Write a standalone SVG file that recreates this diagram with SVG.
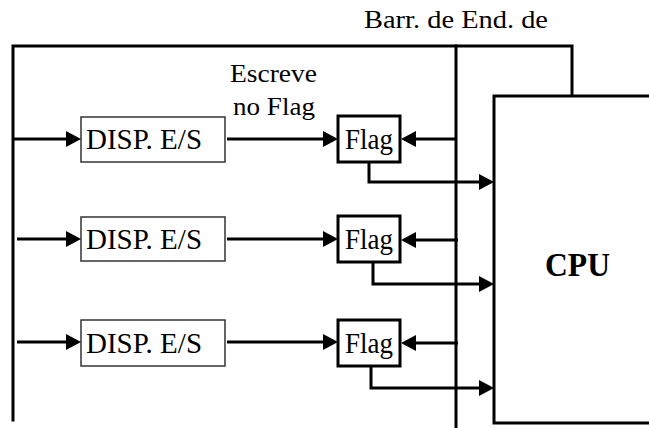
<svg xmlns="http://www.w3.org/2000/svg" width="649" height="428" viewBox="0 0 649 428">
  <style>
    .bus { fill: none; stroke: #000; stroke-width: 3; stroke-linejoin: miter; stroke-linecap: square; }
    .arrow { fill: none; stroke: #000; stroke-width: 3; marker-end: url(#head); }
    .dev { fill: #fff; stroke: #333; stroke-width: 1.5; }
    .flag { fill: #fff; stroke: #000; stroke-width: 3; }
    .cpu { fill: #fff; stroke: #000; stroke-width: 3; }
    text { font-family: "Liberation Serif", "Times New Roman", serif; fill: #000; }
    .lbl { font-size: 30px; }
    .flg { font-size: 29px; }
    .note { font-size: 26px; }
    .big { font-size: 34px; font-weight: bold; }
  </style>
  <defs>
    <marker id="head" markerUnits="userSpaceOnUse" markerWidth="16" markerHeight="16" refX="5" refY="8" orient="auto">
      <path d="M0,0 L15,8 L0,16 z" fill="#000"/>
    </marker>
  </defs>

  <rect width="649" height="428" fill="#fff"/>

  <!-- address bus frame -->
  <g id="bus">
    <path class="bus" d="M13,420 V46 H572 V96"/>
    <path class="bus" d="M456,46 V430"/>
    <text class="note" x="364" y="28" textLength="184" lengthAdjust="spacingAndGlyphs">Barr. de End. de</text>
  </g>

  <!-- processor -->
  <g id="cpu">
    <rect class="cpu" x="494" y="96" width="170" height="327"/>
    <text class="big" x="545" y="276" textLength="65" lengthAdjust="spacingAndGlyphs">CPU</text>
  </g>

  <!-- I/O devices -->
  <g id="dev1">
    <rect class="dev" x="81" y="117" width="144" height="45"/>
    <text class="lbl" x="86" y="149" textLength="116" lengthAdjust="spacingAndGlyphs">DISP. E/S</text>
  </g>
  <g id="dev2">
    <rect class="dev" x="81" y="217" width="144" height="44"/>
    <text class="lbl" x="86" y="249" textLength="116" lengthAdjust="spacingAndGlyphs">DISP. E/S</text>
  </g>
  <g id="dev3">
    <rect class="dev" x="81" y="320" width="144" height="46"/>
    <text class="lbl" x="86" y="353" textLength="116" lengthAdjust="spacingAndGlyphs">DISP. E/S</text>
  </g>

  <!-- status flags -->
  <g id="flag1">
    <rect class="flag" x="338" y="116" width="62" height="46"/>
    <text class="flg" x="345" y="149" textLength="48" lengthAdjust="spacingAndGlyphs">Flag</text>
  </g>
  <g id="flag2">
    <rect class="flag" x="338" y="216" width="62" height="46"/>
    <text class="flg" x="345" y="249" textLength="48" lengthAdjust="spacingAndGlyphs">Flag</text>
  </g>
  <g id="flag3">
    <rect class="flag" x="338" y="320" width="62" height="46"/>
    <text class="flg" x="345" y="353" textLength="48" lengthAdjust="spacingAndGlyphs">Flag</text>
  </g>

  <!-- write-flag caption -->
  <g id="caption">
    <text class="note" x="230" y="82" textLength="87" lengthAdjust="spacingAndGlyphs">Escreve</text>
    <text class="note" x="233" y="115" textLength="82" lengthAdjust="spacingAndGlyphs">no Flag</text>
  </g>

  <!-- connectors -->
  <g id="connectors">
    <line class="arrow" x1="13" y1="139" x2="71" y2="139"/>
    <line class="arrow" x1="17" y1="239" x2="71" y2="239"/>
    <line class="arrow" x1="17" y1="342" x2="71" y2="342"/>

    <line class="arrow" x1="227" y1="139" x2="328" y2="139"/>
    <line class="arrow" x1="227" y1="239" x2="328" y2="239"/>
    <line class="arrow" x1="227" y1="342" x2="328" y2="342"/>

    <line class="arrow" x1="456" y1="139" x2="411" y2="139"/>
    <line class="arrow" x1="458" y1="240" x2="411" y2="240"/>
    <line class="arrow" x1="458" y1="343" x2="411" y2="343"/>

    <path class="arrow" d="M369,162 V182 H484"/>
    <path class="arrow" d="M373,262 V284 H484"/>
    <path class="arrow" d="M371,366 V388 H484"/>
  </g>
</svg>
